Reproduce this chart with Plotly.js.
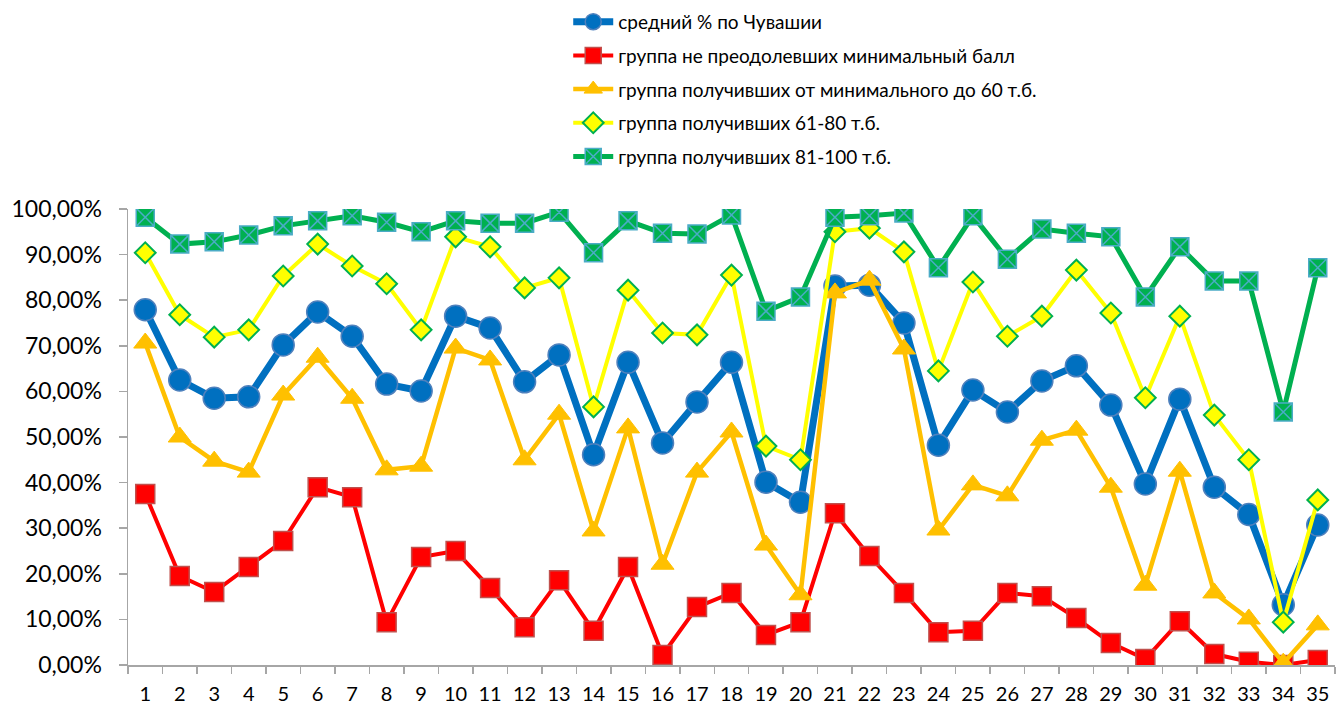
<!DOCTYPE html>
<html>
<head>
<meta charset="utf-8">
<script src="https://cdn.plot.ly/plotly-3.0.1.min.js"></script>
<style>html,body{margin:0;padding:0;background:#fff;}#chart{width:1337px;height:711px;}</style>
</head>
<body>
<div id="chart"></div>
<script>
const categories = Array.from({length: 35}, (_, i) => i + 1);
const seriesNames = [
  "средний % по Чувашии",
  "группа не преодолевших минимальный балл",
  "группа получивших от минимального до 60 т.б.",
  "группа получивших 61-80 т.б.",
  "группа получивших 81-100 т.б."
];
const avgChuvashia = [77.9,62.5,58.5,58.8,70.2,77.4,72.1,61.6,60.1,76.5,73.9,62.1,68.0,46.1,66.4,48.7,57.7,66.4,40.1,35.7,83.1,83.3,75.0,48.2,60.3,55.5,62.3,65.6,57.0,39.7,58.3,39.0,33.0,13.2,30.7];
const belowMin = [37.5,19.5,16.0,21.5,27.2,39.0,36.8,9.4,23.7,25.0,16.9,8.3,18.6,7.5,21.5,2.2,12.7,15.8,6.6,9.4,33.3,23.9,15.8,7.2,7.5,15.8,15.1,10.3,4.8,1.3,9.6,2.4,0.7,0.0,1.1];
const minTo60 = [70.6,50.0,44.7,42.3,59.2,67.5,58.5,42.8,43.6,69.5,66.9,45.0,55.0,29.4,52.0,22.1,42.3,51.1,26.3,15.4,81.6,84.4,69.3,29.6,39.5,37.1,49.3,51.5,39.0,17.5,42.5,15.8,10.1,0.4,8.8];
const from61to80 = [90.4,76.8,71.9,73.5,85.3,92.3,87.5,83.6,73.5,93.9,91.7,82.7,84.9,56.6,82.2,72.8,72.4,85.5,48.0,45.0,95.0,95.8,90.6,64.5,84.0,72.1,76.5,86.6,77.2,58.6,76.5,54.8,45.0,9.4,36.2];
const from81to100 = [98.2,92.3,92.8,94.3,96.3,97.4,98.5,97.1,95.0,97.4,96.9,96.9,99.3,90.4,97.4,94.7,94.5,98.7,77.6,80.7,98.2,98.5,99.1,87.1,98.5,89.0,95.6,94.7,93.9,80.7,91.7,84.2,84.2,55.5,87.1];

const pct = a => a.map(v => v / 100);

const traces = [
  {y: avgChuvashia, name: seriesNames[0], line: {color: '#0070C0', width: 7},
   marker: {symbol: 'circle', size: 22, color: '#0070C0', line: {color: '#4F81BD', width: 1.5}}},
  {y: belowMin, name: seriesNames[1], line: {color: '#FF0000', width: 4},
   marker: {symbol: 'square', size: 19, color: '#FF0000', line: {color: '#C0504D', width: 1.5}}},
  {y: minTo60, name: seriesNames[2], line: {color: '#FFC000', width: 4.5},
   marker: {symbol: 'triangle-up', size: 20, color: '#FFC000', line: {color: '#FFC000', width: 1}}},
  {y: from61to80, name: seriesNames[3], line: {color: '#FFFF00', width: 4},
   marker: {symbol: 'diamond', size: 16, color: '#FFFF00', line: {color: '#00B050', width: 2}}},
  {y: from81to100, name: seriesNames[4], line: {color: '#00B050', width: 5},
   marker: {symbol: 'square-x', size: 18, color: '#00B050', line: {color: '#4BACC6', width: 1.5}}}
].map((t, i) => Object.assign({
  type: 'scatter', mode: 'lines+markers', x: categories, legendgroup: 'g' + i
}, t, {y: pct(t.y)}));

const layout = {
  width: 1337, height: 711,
  paper_bgcolor: '#ffffff', plot_bgcolor: '#ffffff',
  separators: ', ',
  margin: {l: 128, r: 2, t: 209, b: 46, autoexpand: false},
  font: {family: 'Lato, "Open Sans", sans-serif', color: '#000000'},
  showlegend: true,
  legend: {
    xref: 'container', yref: 'container',
    x: 0.425, y: 0.996, xanchor: 'left', yanchor: 'top',
    font: {size: 19, family: 'Lato, "Open Sans", sans-serif', color: '#000'},
    traceorder: 'grouped', tracegroupgap: 6,
    itemwidth: 40, bgcolor: 'rgba(0,0,0,0)'
  },
  xaxis: {
    range: [0.5, 35.5], tickmode: 'array', tickvals: categories,
    ticktext: categories.map(String), ticks: '', showgrid: false, zeroline: false,
    showline: true, linecolor: '#A6A6A6', linewidth: 1.5, tickangle: 0,
    ticklabelstandoff: 10,
    tickfont: {size: 20, color: '#000'},
    minor: {tick0: 0.5, dtick: 1, ticks: 'outside', ticklen: 7, tickcolor: '#A6A6A6', tickwidth: 1.5, showgrid: false}
  },
  yaxis: {
    range: [0, 1], tickmode: 'array', tickvals: [0,0.1,0.2,0.3,0.4,0.5,0.6,0.7,0.8,0.9,1],
    tickformat: '.2%', ticks: 'outside', ticklen: 8, tickcolor: '#A6A6A6', tickwidth: 1.5,
    showgrid: false, zeroline: false, showline: true, linecolor: '#A6A6A6', linewidth: 1.5,
    ticklabelstandoff: 12,
    tickfont: {size: 23, color: '#000'}
  }
};

Plotly.newPlot('chart', traces, layout, {displayModeBar: false, staticPlot: true});
</script>
</body>
</html>
